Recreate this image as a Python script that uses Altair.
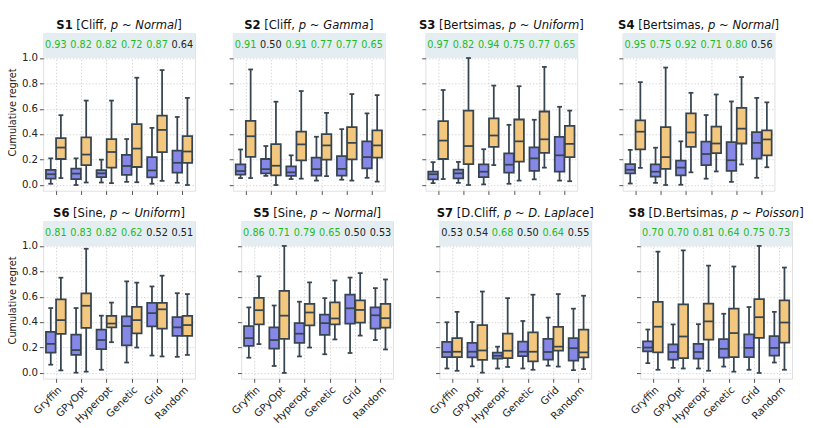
import altair as alt
import pandas as pd

# ---------------- data ----------------
methods = ["Gryffin", "GPyOpt", "Hyperopt", "Genetic", "Grid", "Random"]

panel_ids = ["S1", "S2", "S3", "S4", "S6", "S5", "S7", "S8"]
panel_bench = ["Cliff", "Cliff", "Bertsimas", "Bertsimas", "Sine", "Sine", "D.Cliff", "D.Bertsimas"]
panel_dist = ["Normal", "Gamma", "Uniform", "Normal", "Uniform", "Normal", "D. Laplace", "Poisson"]

# per method: (lower whisker, q1, median, q3, upper whisker)
blue_S1 = [(0.01, 0.05, 0.085, 0.12, 0.21), (0.0, 0.047, 0.09, 0.13, 0.21), (0.02, 0.062, 0.092, 0.117, 0.2),
           (0.025, 0.08, 0.15, 0.237, 0.362), (0.01, 0.06, 0.115, 0.22, 0.45), (0.018, 0.097, 0.175, 0.27, 0.536)]
orng_S1 = [(0.055, 0.205, 0.295, 0.37, 0.55), (0.02, 0.157, 0.24, 0.375, 0.665), (0.015, 0.137, 0.26, 0.362, 0.665),
           (0.022, 0.142, 0.287, 0.479, 0.845), (0.033, 0.26, 0.434, 0.546, 0.905), (0.0, 0.175, 0.264, 0.386, 0.686)]
blue_S2 = [(0.055, 0.082, 0.11, 0.162, 0.28), (0.072, 0.092, 0.125, 0.205, 0.307), (0.047, 0.072, 0.1, 0.147, 0.234),
           (0.035, 0.075, 0.125, 0.215, 0.38), (0.042, 0.075, 0.127, 0.227, 0.44), (0.057, 0.132, 0.22, 0.344, 0.564)]
orng_S2 = [(0.055, 0.222, 0.384, 0.506, 0.91), (0.0, 0.077, 0.152, 0.322, 0.656), (0.05, 0.195, 0.32, 0.42, 0.74),
           (0.07, 0.2, 0.312, 0.4, 0.568), (0.035, 0.202, 0.332, 0.456, 0.716), (0.027, 0.215, 0.312, 0.43, 0.708)]
blue_S3 = [(0.015, 0.045, 0.085, 0.105, 0.18), (0.017, 0.052, 0.092, 0.122, 0.182), (0.005, 0.062, 0.105, 0.162, 0.282),
           (0.01, 0.097, 0.16, 0.25, 0.474), (0.045, 0.112, 0.21, 0.297, 0.514), (0.035, 0.105, 0.234, 0.379, 0.616)]
orng_S3 = [(0.047, 0.205, 0.35, 0.504, 0.748), (0.0, 0.165, 0.307, 0.586, 1.0), (0.157, 0.3, 0.39, 0.524, 0.783),
           (0.035, 0.185, 0.344, 0.516, 0.778), (0.137, 0.254, 0.36, 0.579, 0.93), (0.03, 0.219, 0.324, 0.466, 0.586)]
blue_S4 = [(0.012, 0.092, 0.12, 0.165, 0.277), (0.017, 0.067, 0.105, 0.162, 0.294), (0.002, 0.077, 0.137, 0.192, 0.344),
           (0.05, 0.157, 0.244, 0.342, 0.551), (0.025, 0.112, 0.195, 0.337, 0.658), (0.057, 0.207, 0.332, 0.416, 0.686)]
orng_S4 = [(0.135, 0.28, 0.42, 0.509, 0.81), (0.0, 0.127, 0.22, 0.456, 0.925), (0.1, 0.3, 0.414, 0.564, 0.726),
           (0.107, 0.252, 0.327, 0.459, 0.713), (0.162, 0.327, 0.444, 0.608, 0.85), (0.14, 0.234, 0.359, 0.431, 0.651)]
blue_S6 = [(0.065, 0.16, 0.229, 0.324, 0.511), (0.002, 0.142, 0.18, 0.302, 0.511), (0.025, 0.187, 0.259, 0.342, 0.451),
           (0.082, 0.217, 0.369, 0.446, 0.721), (0.137, 0.367, 0.471, 0.551, 0.681), (0.127, 0.292, 0.359, 0.439, 0.628)]
orng_S6 = [(0.02, 0.307, 0.416, 0.579, 0.75), (0.01, 0.354, 0.529, 0.626, 0.978), (0.242, 0.359, 0.389, 0.449, 0.554),
           (0.2, 0.312, 0.416, 0.521, 0.711), (0.13, 0.349, 0.501, 0.551, 0.766), (0.142, 0.292, 0.377, 0.449, 0.621)]
blue_S5 = [(0.12, 0.214, 0.274, 0.369, 0.516), (0.055, 0.192, 0.259, 0.359, 0.531), (0.13, 0.237, 0.309, 0.392, 0.561),
           (0.147, 0.299, 0.392, 0.459, 0.589), (0.157, 0.389, 0.509, 0.616, 0.751), (0.259, 0.349, 0.454, 0.516, 0.668)]
orng_S5 = [(0.227, 0.382, 0.494, 0.591, 0.761), (0.0, 0.269, 0.451, 0.646, 1.0), (0.2, 0.374, 0.476, 0.544, 0.713),
           (0.264, 0.382, 0.429, 0.556, 0.728), (0.294, 0.397, 0.496, 0.571, 0.786), (0.185, 0.357, 0.431, 0.544, 0.736)]
blue_S7 = [(0.035, 0.125, 0.165, 0.244, 0.399), (0.052, 0.122, 0.167, 0.237, 0.401), (0.035, 0.112, 0.135, 0.16, 0.207),
           (0.035, 0.132, 0.167, 0.247, 0.409), (0.057, 0.105, 0.165, 0.269, 0.436), (0.022, 0.097, 0.195, 0.274, 0.506)]
orng_S7 = [(0.017, 0.125, 0.167, 0.274, 0.481), (0.002, 0.102, 0.177, 0.377, 0.641), (0.047, 0.117, 0.175, 0.309, 0.589),
           (0.025, 0.092, 0.167, 0.319, 0.616), (0.05, 0.175, 0.207, 0.362, 0.621), (0.03, 0.122, 0.162, 0.342, 0.608)]
blue_S8 = [(0.077, 0.17, 0.2, 0.249, 0.342), (0.04, 0.105, 0.165, 0.224, 0.382), (0.035, 0.112, 0.165, 0.229, 0.384),
           (0.05, 0.12, 0.19, 0.267, 0.466), (0.025, 0.125, 0.197, 0.304, 0.519), (0.082, 0.137, 0.197, 0.289, 0.481)]
orng_S8 = [(0.025, 0.162, 0.364, 0.559, 0.955), (0.035, 0.117, 0.287, 0.539, 0.965), (0.017, 0.262, 0.406, 0.546, 0.845),
           (0.01, 0.125, 0.314, 0.506, 0.838), (0.0, 0.277, 0.439, 0.581, 1.0), (0.025, 0.239, 0.397, 0.571, 0.83)]

scores = {
    "S1": [0.93, 0.82, 0.82, 0.72, 0.87, 0.64],
    "S2": [0.91, 0.50, 0.91, 0.77, 0.77, 0.65],
    "S3": [0.97, 0.82, 0.94, 0.75, 0.77, 0.65],
    "S4": [0.95, 0.75, 0.92, 0.71, 0.80, 0.56],
    "S6": [0.81, 0.83, 0.82, 0.62, 0.52, 0.51],
    "S5": [0.86, 0.71, 0.79, 0.65, 0.50, 0.53],
    "S7": [0.53, 0.54, 0.68, 0.50, 0.64, 0.55],
    "S8": [0.70, 0.70, 0.81, 0.64, 0.75, 0.73],
}
significant = {
    "S1": [1, 1, 1, 1, 1, 0],
    "S2": [1, 0, 1, 1, 1, 1],
    "S3": [1, 1, 1, 1, 1, 1],
    "S4": [1, 1, 1, 1, 1, 0],
    "S6": [1, 1, 1, 1, 0, 0],
    "S5": [1, 1, 1, 1, 0, 0],
    "S7": [0, 0, 1, 0, 1, 0],
    "S8": [1, 1, 1, 1, 1, 1],
}
stats = {
    "S1": (blue_S1, orng_S1), "S2": (blue_S2, orng_S2), "S3": (blue_S3, orng_S3), "S4": (blue_S4, orng_S4),
    "S6": (blue_S6, orng_S6), "S5": (blue_S5, orng_S5), "S7": (blue_S7, orng_S7), "S8": (blue_S8, orng_S8),
}

# ---------------- style ----------------
FONT = "DejaVu Sans"
BLUE = "#8787e8"
ORANGE = "#f3c77e"
EDGE = "#36454f"
BAND = "#e4eef2"
GREEN = "#22bb22"
W, H = 164, 170
Y_LO, Y_HI = -0.045, 1.194
TITLE_SIZE = 12.5

# DejaVu Sans advance widths (units / 2048) for title layout
ADV = {" ": 651, ",": 651, ".": 651, "[": 799, "]": 799, "~": 1716,
       "B": 1405, "C": 1430, "D": 1577, "G": 1589, "L": 1141, "N": 1532, "P": 1235, "S": 1300, "U": 1499,
       "a": 1255, "c": 1126, "e": 1260, "f": 721, "i": 569, "l": 569, "m": 1995, "n": 1298, "o": 1253,
       "p": 1300, "r": 842, "s": 1067, "t": 803, "u": 1298}
ADV_BOLD = {"S": 1470}


def text_w(s, bold=False):
    tot = 0
    for ch in s:
        if bold:
            tot += ADV_BOLD.get(ch, 1425 if ch.isdigit() else ADV.get(ch, 1300))
        else:
            tot += 1303 if ch.isdigit() else ADV.get(ch, 1250)
    return tot / 2048 * TITLE_SIZE


def title_layers(pid, bench, dist):
    segs = [(pid, "b"), (" ", "n"), ("[" + bench + ",", "n"), (" ", "n"), ("p", "i"),
            (" ", "n"), ("~", "n"), (" ", "n"), (dist, "i"), ("]", "n")]
    widths = [text_w(s, st == "b") for s, st in segs]
    x = W / 2 - sum(widths) / 2
    rows = []
    for (s, st), w in zip(segs, widths):
        if s.strip():
            rows.append({"t": s, "st": st, "px": x})
        x += w
    df = pd.DataFrame(rows)
    out = []
    for st, kw in [("b", dict(fontWeight="bold")), ("n", dict()), ("i", dict(fontStyle="italic"))]:
        sub = df[df.st == st]
        out.append(
            alt.Chart(sub).mark_text(align="left", baseline="alphabetic", font=FONT, fontSize=TITLE_SIZE,
                                     color="#111111", **kw)
            .encode(x=alt.X("px:Q", scale=None), y=alt.value(-5), text="t:N")
        )
    return out


def panel(idx):
    pid = panel_ids[idx]
    col = idx % 4
    row = idx // 4
    blue, orng = stats[pid]
    recs = []
    for g, (lst, off) in enumerate([(blue, -0.2), (orng, 0.2)]):
        for i, (lo, q1, med, q3, hi) in enumerate(lst):
            c = i + off
            recs.append({"grp": "a" if g == 0 else "b", "xc": c, "xl": c - 0.19, "xr": c + 0.19,
                         "cl": c - 0.095, "cr": c + 0.095,
                         "lo": lo, "q1": q1, "med": med, "q3": q3, "hi": hi})
    df = pd.DataFrame(recs)
    sc = pd.DataFrame({"x": list(range(6)), "v": [f"{v:.2f}" for v in scores[pid]],
                       "sig": significant[pid]})
    band = pd.DataFrame({"x": [-0.5], "x2": [5.5], "y": [1.0], "y2": [Y_HI]})

    xscale = alt.Scale(domain=[-0.5, 5.5], nice=False, zero=False)
    yscale = alt.Scale(domain=[Y_LO, Y_HI], nice=False, zero=False)
    label_expr = "[" + ",".join(f"'{m}'" for m in methods) + "][datum.value]"
    xaxis = alt.Axis(values=list(range(6)), labelExpr=label_expr, title=None, grid=True,
                     gridDash=[1.5, 2], gridColor="#c8c8c8", gridWidth=0.8,
                     labels=(row == 1), labelAngle=315, labelAlign="right", labelBaseline="top",
                     labelOverlap=False, labelBound=False, labelFlush=False,
                     labelFontSize=11, labelFont=FONT, labelColor="#222222",
                     tickColor="#444444", tickSize=4, domain=False, labelPadding=2)
    yaxis = alt.Axis(values=[0, 0.2, 0.4, 0.6, 0.8, 1.0], format=".1f", grid=True,
                     gridDash=[1.5, 2], gridColor="#c8c8c8", gridWidth=0.8,
                     labels=(col == 0), title="Cumulative regret" if col == 0 else None,
                     labelOverlap=False, labelBound=False, labelFlush=False,
                     titleFont=FONT, titleFontSize=10.5, titleFontWeight="normal", titleColor="#222222",
                     titlePadding=4, labelFontSize=11, labelFont=FONT, labelColor="#222222",
                     tickColor="#444444", tickSize=4, domain=False, labelPadding=2)

    def X(f):
        return alt.X(f, scale=xscale, axis=xaxis)

    def Y(f):
        return alt.Y(f, scale=yscale, axis=yaxis)

    band_l = alt.Chart(band).mark_rect(color=BAND).encode(
        x=X("x:Q"), x2="x2:Q", y=Y("y:Q"), y2="y2:Q")
    whisk = alt.Chart(df).mark_rule(color=EDGE, strokeWidth=1.9).encode(
        x=X("xc:Q"), y=Y("lo:Q"), y2="hi:Q")
    cap_hi = alt.Chart(df).mark_rule(color=EDGE, strokeWidth=1.9).encode(
        x=X("cl:Q"), x2="cr:Q", y=Y("hi:Q"))
    cap_lo = alt.Chart(df).mark_rule(color=EDGE, strokeWidth=1.9).encode(
        x=X("cl:Q"), x2="cr:Q", y=Y("lo:Q"))
    box = alt.Chart(df).mark_rect(stroke=EDGE, strokeWidth=1.9).encode(
        x=X("xl:Q"), x2="xr:Q", y=Y("q1:Q"), y2="q3:Q",
        fill=alt.Fill("grp:N", scale=alt.Scale(domain=["a", "b"], range=[BLUE, ORANGE]), legend=None))
    med = alt.Chart(df).mark_rule(color=EDGE, strokeWidth=1.9).encode(
        x=X("xl:Q"), x2="xr:Q", y=Y("med:Q"))
    txt = alt.Chart(sc).mark_text(font=FONT, fontSize=10.5, baseline="middle").encode(
        x=X("x:Q"), y=alt.value((Y_HI - 1.10) / (Y_HI - Y_LO) * H),
        text="v:N",
        color=alt.Color("sig:N", scale=alt.Scale(domain=[0, 1], range=["#222222", GREEN]), legend=None))

    layers = [band_l, whisk, cap_hi, cap_lo, box, med, txt] + title_layers(pid, panel_bench[idx], panel_dist[idx])
    return alt.layer(*layers).resolve_scale(fill="independent", color="independent").properties(width=W, height=H)


row1 = alt.hconcat(*[panel(i) for i in range(4)], spacing=35)
row2 = alt.hconcat(*[panel(i) for i in range(4, 8)], spacing=35)
chart = alt.vconcat(row1, row2, spacing=12).properties(
    padding={"left": 0, "top": -6, "right": 0, "bottom": 0}
).configure_view(stroke="#444444", strokeWidth=1.3).configure(background="white")

chart.save("out.html", embed_options={"renderer": "svg", "actions": False})
